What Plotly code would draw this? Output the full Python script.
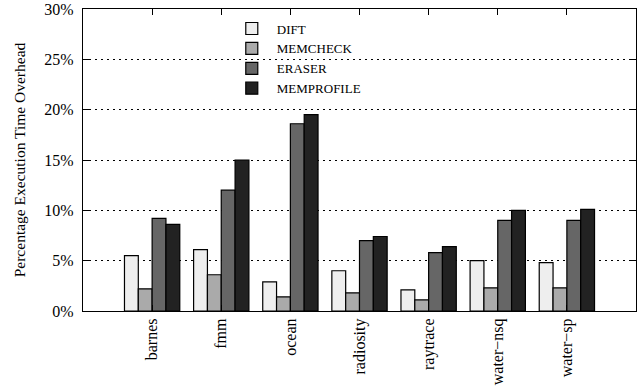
import plotly.graph_objects as go

benchmarks = ["barnes", "fmm", "ocean", "radiosity", "raytrace", "water\u2212nsq", "water\u2212sp"]
positions = [1, 2, 3, 4, 5, 6, 7]

dift = [5.5, 6.1, 2.9, 4.0, 2.1, 5.0, 4.8]
memcheck = [2.2, 3.6, 1.4, 1.8, 1.1, 2.3, 2.3]
eraser = [9.2, 12.0, 18.6, 7.0, 5.8, 9.0, 9.0]
memprofile = [8.6, 15.0, 19.5, 7.4, 6.4, 10.0, 10.1]

series = [
    ("DIFT", dift, "#eeeeee"),
    ("MEMCHECK", memcheck, "#aaaaaa"),
    ("ERASER", eraser, "#666666"),
    ("MEMPROFILE", memprofile, "#222222"),
]

y_ticks = [0, 5, 10, 15, 20, 25, 30]
y_ticklabels = [f"{v}%" for v in y_ticks]

font = "'Liberation Serif'"

fig = go.Figure()
for name, vals, color in series:
    fig.add_trace(go.Bar(
        name=name, x=positions, y=vals,
        marker=dict(color=color, line=dict(color="#000000", width=1.2)),
    ))

fig.update_layout(
    width=642, height=388,
    barmode="group", bargap=0.2, bargroupgap=0,
    plot_bgcolor="white", paper_bgcolor="white",
    margin=dict(l=83, r=6, t=9, b=77, autoexpand=False),
    font=dict(family=font, size=13, color="#000000"),
    showlegend=True,
    legend=dict(
        x=0.26, y=0.985, xanchor="left", yanchor="top",
        bgcolor="rgba(0,0,0,0)", font=dict(family=font, size=13),
        tracegroupgap=0, itemwidth=40,
    ),
    xaxis=dict(
        range=[0, 8], tickmode="array", tickvals=positions, ticktext=benchmarks,
        tickangle=-90, ticks="inside", ticklen=6, tickcolor="#000000",
        showline=True, linecolor="#000000", linewidth=1.2, mirror="ticks",
        showgrid=False, zeroline=False, automargin=False,
        tickfont=dict(family=font, size=16),
    ),
    yaxis=dict(
        range=[0, 30], tickmode="array", tickvals=y_ticks, ticktext=y_ticklabels,
        ticks="inside", ticklen=6, tickcolor="#000000", ticklabelstandoff=5,
        showline=True, linecolor="#000000", linewidth=1.2, mirror="ticks",
        showgrid=True, gridcolor="#000000", gridwidth=1, griddash="2px,4px",
        zeroline=False, automargin=False,
        title=dict(text="Percentage Execution Time Overhead", font=dict(family=font, size=15.5), standoff=14),
        tickfont=dict(family=font, size=16),
    ),
)

fig.write_html("out.html")
